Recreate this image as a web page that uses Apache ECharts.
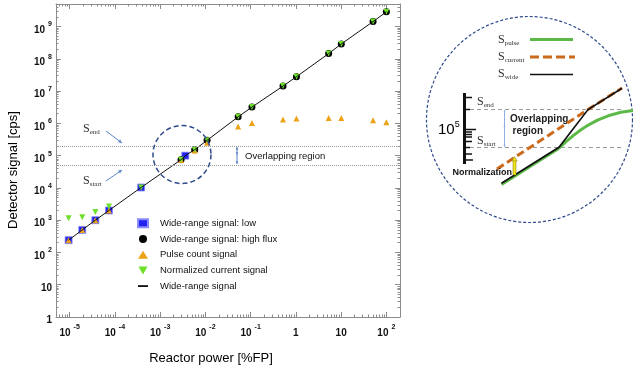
<!DOCTYPE html>
<html>
<head>
<meta charset="utf-8">
<script src="https://cdn.jsdelivr.net/npm/echarts@6/dist/echarts.min.js"></script>
<style>
html,body{margin:0;padding:0;background:#fff;}
#c{width:633px;height:374px;}
</style>
</head>
<body>
<div id="c"></div>
<script>
// ---- data ----
const powerLow = [9.5e-6, 1.9e-5, 3.7e-5, 7.4e-5, 3.8e-4, 3.6e-3];
const wideLow = [240, 500, 1000, 2000, 10300, 100000];

const powerHigh = [2.9e-3, 5.8e-3, 1.09e-2, 0.053, 0.107, 0.52, 1.03, 5.3, 10.1, 50.8, 100];
const wideHigh = [7.5e4, 1.53e5, 2.98e5, 1.59e6, 3.2e6, 1.43e7, 2.79e7, 1.45e8, 2.89e8, 1.43e9, 2.86e9];

const powerPulse = [9.5e-6, 1.9e-5, 3.7e-5, 7.4e-5, 2.9e-3, 5.8e-3, 1.09e-2, 0.053, 0.107, 0.52, 1.03, 5.3, 10.1, 50.8, 100];
const pulseSignal = [240, 500, 1000, 2000, 7.3e4, 1.45e5, 2.5e5, 7.95e5, 1.03e6, 1.31e6, 1.41e6, 1.48e6, 1.48e6, 1.25e6, 1.08e6];

const powerCurrent = [9.5e-6, 1.9e-5, 3.7e-5, 7.4e-5, 3.8e-4, 2.9e-3, 5.8e-3, 1.09e-2, 0.053, 0.107, 0.52, 1.03, 5.3, 10.1, 50.8, 100];
const currentSignal = [1150, 1230, 1800, 2640, 10300, 7.5e4, 1.53e5, 2.98e5, 1.59e6, 3.2e6, 1.43e7, 2.79e7, 1.45e8, 2.89e8, 1.43e9, 2.86e9];

const powerWide = [9.5e-6, 1.9e-5, 3.7e-5, 7.4e-5, 3.8e-4, 2.9e-3, 3.6e-3, 5.8e-3, 1.09e-2, 0.053, 0.107, 0.52, 1.03, 5.3, 10.1, 50.8, 100];
const wideSignal = [240, 500, 1000, 2000, 10300, 7.5e4, 1.0e5, 1.53e5, 2.98e5, 1.59e6, 3.2e6, 1.43e7, 2.79e7, 1.45e8, 2.89e8, 1.43e9, 2.86e9];

const overlapLevels = [2e5, 5e4]; // S_end, S_start

const xTickValues = [1e-5, 1e-4, 1e-3, 1e-2, 1e-1, 1, 10, 100];
const yTickValues = [1, 10, 1e2, 1e3, 1e4, 1e5, 1e6, 1e7, 1e8, 1e9];

const seriesNames = ['Wide-range signal: low', 'Wide-range signal: high flux', 'Pulse count signal', 'Normalized current signal', 'Wide-range signal'];

// ---- helpers ----
function zip(xs, ys){ return xs.map((x,i)=>[x, ys[i]]); }
function minorTicks(e0, e1, lo, hi){
  const out=[];
  for(let e=e0;e<=e1;e++) for(let m=2;m<=9;m++){ const v=m*Math.pow(10,e); if(v>=lo*0.999 && v<=hi*1.001) out.push(v); }
  return out;
}
const xMin=5e-6, xMax=200, yMin=1, yMax=5e9;
const xMinor = minorTicks(-6, 2, xMin, xMax);
const yMinor = minorTicks(0, 9, yMin, yMax);

function powLabel(v){
  const e=Math.round(Math.log10(v));
  if(e===0) return '{b|1}';
  if(e===1) return '{b|10}';
  return '{b|10}{s|'+(e<0?'-':'')+Math.abs(e)+'}';
}
const labelRich = {
  b:{fontFamily:'Liberation Sans', fontWeight:'bold', fontSize:10, lineHeight:10, verticalAlign:'bottom', color:'#111'},
  s:{fontFamily:'Liberation Sans', fontWeight:'bold', fontSize:7, lineHeight:7, verticalAlign:'bottom', padding:[0,0,7,3], color:'#111'}
};
const frameColor = '#8c8c8c';

function mkAxis(kind, pos, major, showLabel){
  const isX = kind==='x';
  return {
    type:'log', logBase:10, min: isX?xMin:yMin, max: isX?xMax:yMax, position:pos,
    axisLine:{show: major, lineStyle:{color:frameColor, width:1}},
    axisTick:{show:true, inside:true, length: major?5:2.5, customValues: major ? (isX?xTickValues:yTickValues) : (isX?xMinor:yMinor), lineStyle:{color:frameColor, width:1}},
    axisLabel: showLabel ? (isX ? {show:true, customValues:xTickValues, formatter: powLabel, rich: labelRich, margin:11}
                                : {show:true, customValues:yTickValues, formatter: powLabel, rich: labelRich, margin:4, padding:[7,0,0,0]}) : {show:false},
    splitLine:{show:false}, minorTick:{show:false}, minorSplitLine:{show:false}
  };
}

function sText(x, y, sub, size, color){
  return {type:'text', x:x, y:y, z:50, style:{
    text:'{a|S}{b|'+sub+'}', textVerticalAlign:'middle', verticalAlign:'middle', fill:color||'#333',
    rich:{
      a:{fontFamily:'Liberation Serif', fontSize:size, lineHeight:size, verticalAlign:'top', color:color||'#333'},
      b:{fontFamily:'Liberation Serif', fontSize:7, lineHeight:7, padding:[Math.round(size*0.5),0,0,0], verticalAlign:'top', color:color||'#333'}
    }}};
}
function arrowHead(x1,y1,x2,y2,color,h){
  const a=Math.atan2(y2-y1,x2-x1);
  return {type:'polygon', z:50, shape:{points:[[x2,y2],[x2-h*Math.cos(a-0.45),y2-h*Math.sin(a-0.45)],[x2-h*Math.cos(a+0.45),y2-h*Math.sin(a+0.45)]]}, style:{fill:color}};
}
function arrow(x1,y1,x2,y2,color,h,both){
  const els=[{type:'line', z:50, shape:{x1:x1,y1:y1,x2:x2,y2:y2}, style:{stroke:color, lineWidth:1}}, arrowHead(x1,y1,x2,y2,color,h)];
  if(both) els.push(arrowHead(x2,y2,x1,y1,color,h));
  return els;
}
function line(x1,y1,x2,y2,color,w,dash){
  return {type:'line', z:50, shape:{x1:x1,y1:y1,x2:x2,y2:y2}, style:{stroke:color, lineWidth:w, lineDash:dash||null}};
}
function poly(points,color,w,dash){
  return {type:'polyline', z:50, shape:{points:points}, style:{stroke:color, lineWidth:w, lineDash:dash||null, fill:null}};
}

const blue='#5b86c8', navy='#2e4a8c';
const gGreen='#5cb947', gOrange='#cc6a1c';

const graphics = [].concat(
  [
    {type:'text', x:13, y:170, rotation:Math.PI/2, z:50, style:{text:'Detector signal [cps]', font:'13px "Liberation Sans"', fill:'#000', textAlign:'center', align:'center', textVerticalAlign:'middle', verticalAlign:'middle'}},
    {type:'text', x:211, y:358, z:50, style:{text:'Reactor power [%FP]', font:'13px "Liberation Sans"', fill:'#000', textAlign:'center', align:'center', textVerticalAlign:'middle', verticalAlign:'middle'}},
    sText(83, 129, 'end', 12),
    sText(83, 181, 'start', 12),
    {type:'circle', z:50, shape:{cx:182, cy:154.5, r:29}, style:{fill:null, stroke:navy, lineWidth:1.5, lineDash:[5,3]}},
    {type:'text', x:245, y:156, z:50, style:{text:'Overlapping region', font:'9.5px "Liberation Sans"', fill:'#111', textVerticalAlign:'middle', verticalAlign:'middle'}}
  ],
  arrow(106,131,122,143,blue,4),
  arrow(106,181,122,170,blue,4),
  arrow(237,155,237,147,blue,3,true),
  arrow(237,155,237,164,blue,3,false),
  // ---- inset ----
  [
    {type:'circle', z:40, shape:{cx:529.5, cy:119.5, r:103}, style:{fill:null, stroke:navy, lineWidth:1.2, lineDash:[3,2]}},
    sText(498, 40, 'pulse', 12),
    line(530,39.5,573,39.5,gGreen,3),
    sText(498, 57, 'current', 12),
    line(530,57,575,57,gOrange,3,[9,4]),
    sText(498, 74, 'wide', 12),
    line(530,74.5,573,74.5,'#111',1.5),
    // scale bar
    line(464.5,93,464.5,164,'#111',3),
    line(464,97.5,472,97.5,'#111',1.5),
    line(464,109.5,470,109.5,'#111',1.5),
    line(464,129.5,476,129.5,'#111',1.5),
    line(464,132,472,132,'#111',1.5),
    line(464,134.5,472,134.5,'#111',1.5),
    line(464,137,472,137,'#111',1.5),
    line(464,141.5,472,141.5,'#111',1.5),
    line(464,147.5,470,147.5,'#111',1.5),
    line(464,154,472,154,'#111',1.5),
    line(464,160,473,160,'#111',1.5),
    {type:'text', x:438, y:130, z:50, style:{text:'{a|10}{b|5}', verticalAlign:'middle', textVerticalAlign:'middle', rich:{a:{fontFamily:'Liberation Sans', fontSize:15, lineHeight:15, verticalAlign:'bottom', color:'#111'}, b:{fontFamily:'Liberation Sans', fontSize:9, lineHeight:9, padding:[0,0,8,0], verticalAlign:'bottom', color:'#111'}}}},
    sText(477, 102, 'end', 12),
    sText(477, 140.5, 'start', 12),
    line(470,109.5,622,109.5,'#9a9a9a',1,[4,3]),
    line(470,147.5,622,147.5,'#9a9a9a',1,[4,3])
  ],
  arrow(504.5,128,504.5,110,'#8fb0e8',2.5,true),
  arrow(504.5,128,504.5,147,'#8fb0e8',2.5,false),
  [
    {type:'text', x:510, y:119.5, z:50, style:{text:'Overlapping', font:'bold 10px "Liberation Sans"', fill:'#222', textVerticalAlign:'middle', verticalAlign:'middle'}},
    {type:'text', x:512.5, y:131.5, z:50, style:{text:'region', font:'bold 10px "Liberation Sans"', fill:'#222', textVerticalAlign:'middle', verticalAlign:'middle'}},
    poly([[501.5,184.5],[559,148.2]], gGreen, 3),
    {type:'bezierCurve', z:50, shape:{x1:559,y1:148.2,cpx1:572,cpy1:136,cpx2:595,cpy2:114,x2:633,y2:110.5}, style:{stroke:gGreen, lineWidth:3, fill:null}},
    poly([[497,169],[588,109.5],[622,88]], gOrange, 3, [8,4]),
    poly([[501.5,183.3],[559,147.3],[588,109.5],[622,88.2]], '#111', 1.6),
    {type:'rect', z:51, shape:{x:513,y:160,width:3,height:15}, style:{fill:'#f4e61c', stroke:'#7a6a00', lineWidth:0.5}},
    {type:'polygon', z:51, shape:{points:[[514.5,156.5],[511.8,161],[517.2,161]]}, style:{fill:'#f4e61c', stroke:'#7a6a00', lineWidth:0.5}},
    {type:'text', x:452.5, y:172.5, z:52, style:{text:'Normalization', font:'bold 9px "Liberation Sans"', fill:'#111', textVerticalAlign:'middle', verticalAlign:'middle'}}
  ]
);

const chart = echarts.init(document.getElementById('c'), null, {renderer:'canvas', width:633, height:374});
chart.setOption({
  animation:false,
  backgroundColor:'#fff',
  grid:{left:56, right:233, top:4, bottom:57, containLabel:false, outerBoundsMode:'none'},
  xAxis:[ mkAxis('x','bottom',true,true), mkAxis('x','bottom',false,false), mkAxis('x','top',true,false), mkAxis('x','top',false,false) ],
  yAxis:[ mkAxis('y','left',true,true), mkAxis('y','left',false,false), mkAxis('y','right',true,false), mkAxis('y','right',false,false) ],
  legend:{
    show:true, orient:'vertical', left:137, top:218.3, padding:0, itemWidth:10, itemHeight:8, itemGap:5.7,
    selectedMode:false, symbolKeepAspect:true,
    data:[
      {name:seriesNames[0]},
      {name:seriesNames[1]},
      {name:seriesNames[2]},
      {name:seriesNames[3], icon:'path://M0,0L10,0L5,8.66Z'},
      {name:seriesNames[4], icon:'path://M0,0L7,0L7,1.3L0,1.3Z'}
    ],
    textStyle:{fontFamily:'Liberation Sans', fontSize:9.5, color:'#111', padding:[0,0,0,7]}
  },
  series:[
    {name:seriesNames[0], type:'scatter', data:zip(powerLow, wideLow), symbol:'rect', symbolSize:7,
     itemStyle:{color:'#2323f0', borderColor:'#8a8aff', borderWidth:0.8, opacity:1}},
    {name:seriesNames[1], type:'scatter', data:zip(powerHigh, wideHigh), symbol:'circle', symbolSize:7,
     itemStyle:{color:'#000', opacity:1}},
    {name:seriesNames[2], type:'scatter', data:zip(powerPulse, pulseSignal), symbol:'triangle', symbolSize:6,
     itemStyle:{color:'#eda317', opacity:1}},
    {name:seriesNames[3], type:'scatter', data:zip(powerCurrent, currentSignal), symbol:'triangle', symbolRotate:180, symbolSize:6,
     itemStyle:{color:'#6ee02a', opacity:1}},
    {name:seriesNames[4], type:'line', data:zip(powerWide, wideSignal), symbol:'none', showSymbol:false,
     lineStyle:{color:'#111', width:1}, itemStyle:{color:'#111'},
     markLine:{silent:true, symbol:['none','none'], label:{show:false}, lineStyle:{type:'dotted', color:'#9a9a9a', width:1},
       data: overlapLevels.map(v=>({yAxis:v}))}}
  ],
  graphic: graphics
});
</script>
</body>
</html>
